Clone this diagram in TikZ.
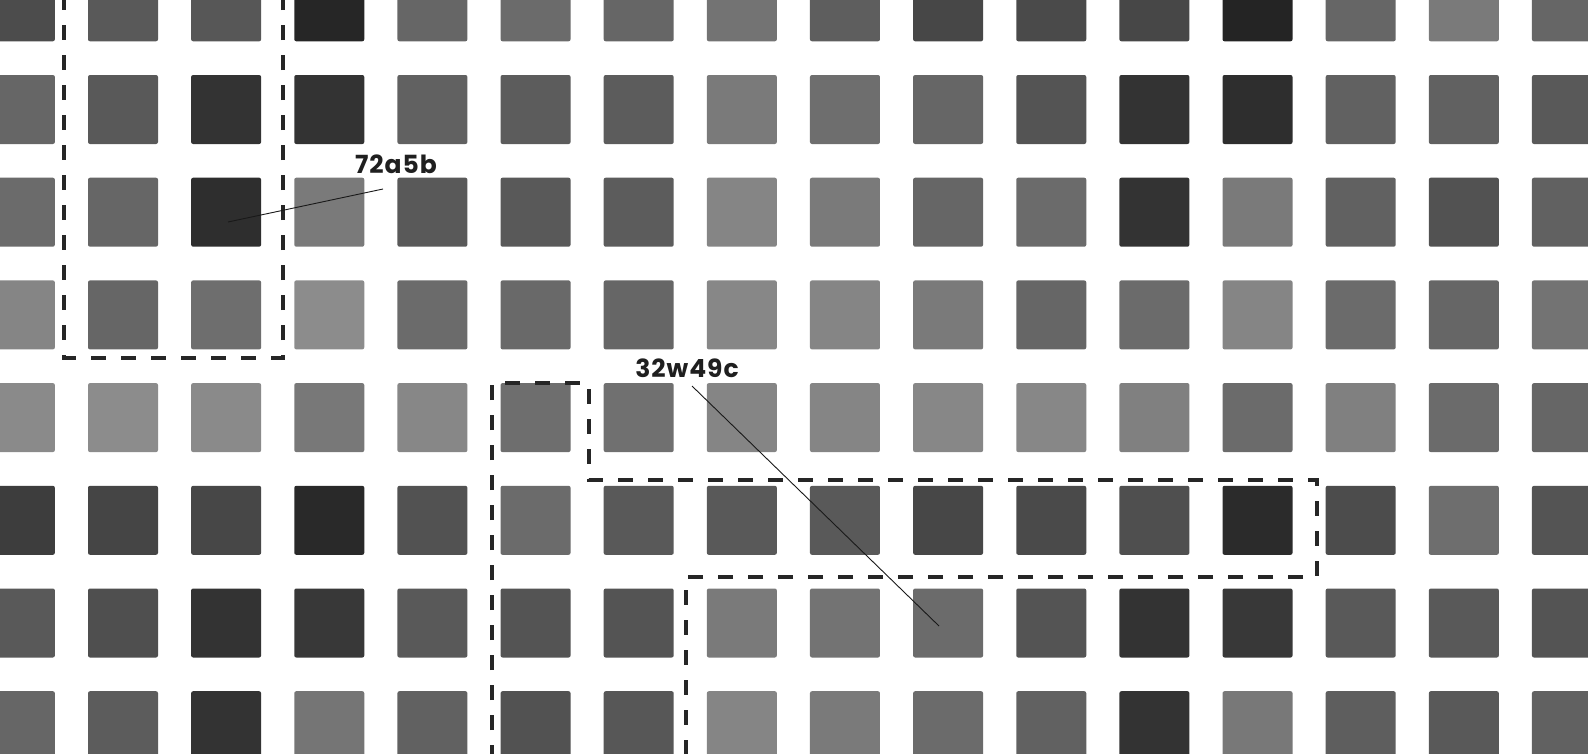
\documentclass[tikz,border=0pt]{standalone}
\usepackage{fontspec}
\newfontfamily\lblfont{Poppins}[LetterSpace=4]
\begin{document}
\begin{tikzpicture}[x=1pt,y=-1pt,
  sq/.style={rounded corners=2pt},
  outline/.style={line width=3.5pt, dash pattern=on 15pt off 15pt, draw=black!85},
  leader/.style={line width=0.9pt, draw=black!90},
  lbl/.style={font=\lblfont\bfseries\fontsize{25}{30}\selectfont, text=black!88, inner sep=0pt}
]
\useasboundingbox (0,0) rectangle (1588,753);
\fill[white] (0,0) rectangle (1588,753);
\foreach \r/\vals in {
  0/{70,65,66,85,60,58,60,55,63,72,71,72,86,60,52,60},
  1/{60,65,80,80,62,64,64,52,57,60,67,80,82,62,62,65},
  2/{58,60,82,52,65,65,64,48,52,60,58,80,52,62,68,62},
  3/{48,60,57,45,58,59,60,47,48,52,60,58,48,58,60,55},
  4/{46,45,46,53,47,57,56,48,48,47,47,50,58,50,58,60},
  5/{76,73,72,84,68,58,65,65,65,72,71,69,83,70,57,67},
  6/{65,69,80,78,65,67,67,52,55,58,67,80,78,65,65,67},
  7/{60,64,80,54,62,68,66,48,52,58,62,80,53,63,65,62}}{
  \foreach \v [count=\c from 0] in \vals {
    \fill[black!\v, sq] ({88+103.14*(\c-1)},{75+102.7*(\r-1)}) rectangle ++(70,69);
  }
}
\draw[outline] (64,-5) -- (64,358) -- (283,358) -- (283,-5);
\draw[outline] (492,760) -- (492,383) -- (589,383) -- (589,480) -- (1317,480) -- (1317,577) -- (686,577) -- (686,760);
\node[lbl] (l1) at (396,164) {72a5b};
\coordinate (a1) at (383,189);
\coordinate (p1) at (228,222);
\draw[leader] (a1) -- (p1);
\node[lbl] (l2) at (687,368) {32w49c};
\coordinate (a2) at (692,386);
\coordinate (p2) at (939,626);
\draw[leader] (a2) -- (p2);
\end{tikzpicture}
\end{document}
